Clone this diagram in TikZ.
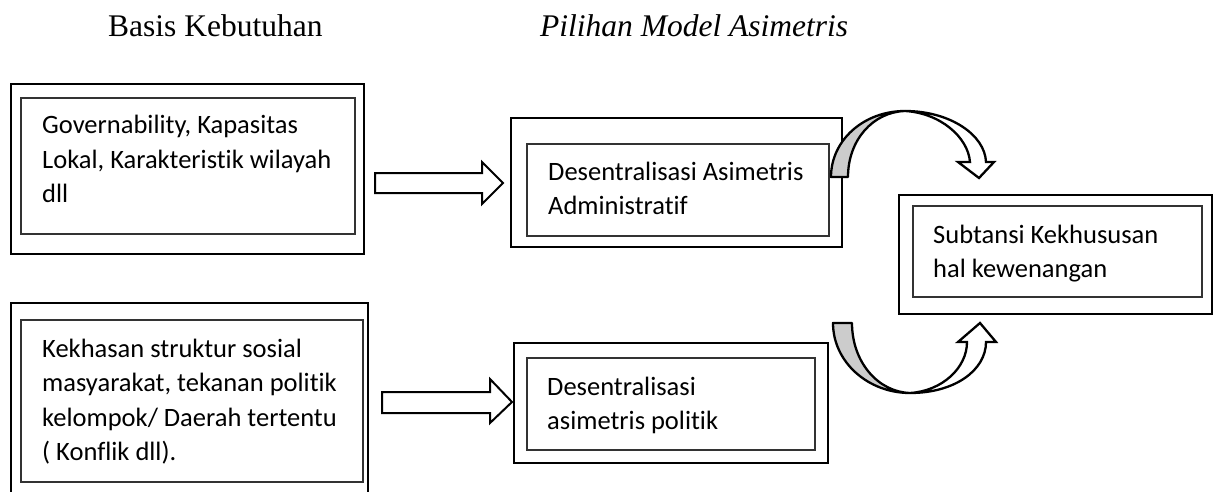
\documentclass[tikz,border=0pt]{standalone}
\usepackage{fontspec}
\setmainfont{Liberation Serif}
\newfontfamily\carlito[Ligatures=NoCommon]{Carlito}
\usetikzlibrary{fit}
\begin{document}
\begin{tikzpicture}[x=1pt,y=-1pt,
  outerbox/.style={draw, line width=2.8pt, inner sep=0pt},
  innerbox/.style={draw=black!80, line width=1.3pt, inner sep=0pt},
  boxtext/.style={anchor=base west, inner sep=0pt, font=\carlito\fontsize{26.5}{34.5}\selectfont},
  titletext/.style={anchor=base west, inner sep=0pt, font=\fontsize{31.5}{36}\selectfont},
  blockarrow/.style={draw, line width=2pt, fill=white, line join=miter},
  curvedgray/.style={draw, line width=2.3pt, fill=black!20, line join=round},
  curvedwhite/.style={draw, line width=2.3pt, fill=white, line join=miter},
]
\clip (0,0) rectangle (1218,492);
% titles
\node[titletext] (t1) at (108,37) {Basis Kebutuhan};
\node[titletext] (t2) at (540,37) {\itshape Pilihan Model Asimetris};
% box 1
\node[outerbox, fit={(11,84) (364,254)}] (o1) {};
\node[innerbox, fit={(21,98) (355,234)}] (i1) {};
\node[boxtext] (x1) at (42,134) {\vtop{\hbox{Governability, Kapasitas}\hbox{Lokal, Karakteristik wilayah}\hbox{dll}}};
% box 2
\node[outerbox, fit={(511,118) (842,247)}] (o2) {};
\node[innerbox, fit={(527,144) (829,236)}] (i2) {};
\node[boxtext] (x2) at (548,180) {\vtop{\hbox{Desentralisasi Asimetris}\hbox{Administratif}}};
% box 3
\node[outerbox, fit={(11,303) (368,520)}] (o3) {};
\node[innerbox, fit={(21,320) (363,482)}] (i3) {};
\node[boxtext] (x3) at (42,357) {\vtop{\hbox{Kekhasan struktur sosial}\hbox{masyarakat, tekanan politik}\hbox{kelompok/ Daerah tertentu}\hbox{( Konflik dll).}}};
% box 5
\node[outerbox, fit={(514,343) (828,463)}] (o5) {};
\node[innerbox, fit={(527,358) (815,450)}] (i5) {};
\node[boxtext] (x5) at (547,395) {\vtop{\hbox{Desentralisasi}\hbox{asimetris politik}}};
% box 4
\node[outerbox, fit={(899,195) (1212,314)}] (o4) {};
\node[innerbox, fit={(913,206) (1202,297)}] (i4) {};
\node[boxtext] (x4) at (933,243) {\vtop{\hbox{Subtansi Kekhususan}\hbox{hal kewenangan}}};
% block arrows
\draw[blockarrow] (375,173) -- (482,173) -- (482,162) -- (503,183) -- (482,204) -- (482,193) -- (375,193) -- cycle;
\draw[blockarrow] (382,392) -- (490,392) -- (490,379) -- (512,402) -- (490,423) -- (490,413) -- (382,413) -- cycle;
% curved arrow top
\draw[curvedgray] (831,177) .. controls (831,140) and (864,111) .. (905,111) .. controls (873,112) and (848,140) .. (848,177) -- cycle;
\draw[curvedwhite] (905,111) .. controls (950,111) and (985,135) .. (986,162) -- (994,162) -- (979,178) -- (958,162) -- (970,162) .. controls (968,137) and (940,113) .. (905,111) -- cycle;
% curved arrow bottom
\draw[curvedgray] (833,323) .. controls (833,362) and (868,393) .. (910,393) .. controls (878,392) and (852,362) .. (852,323) -- cycle;
\draw[curvedwhite] (910,393) .. controls (955,393) and (986,370) .. (986,342) -- (996,342) -- (980,323) -- (958,342) -- (967,342) .. controls (967,368) and (942,391) .. (910,393) -- cycle;
\end{tikzpicture}
\end{document}
